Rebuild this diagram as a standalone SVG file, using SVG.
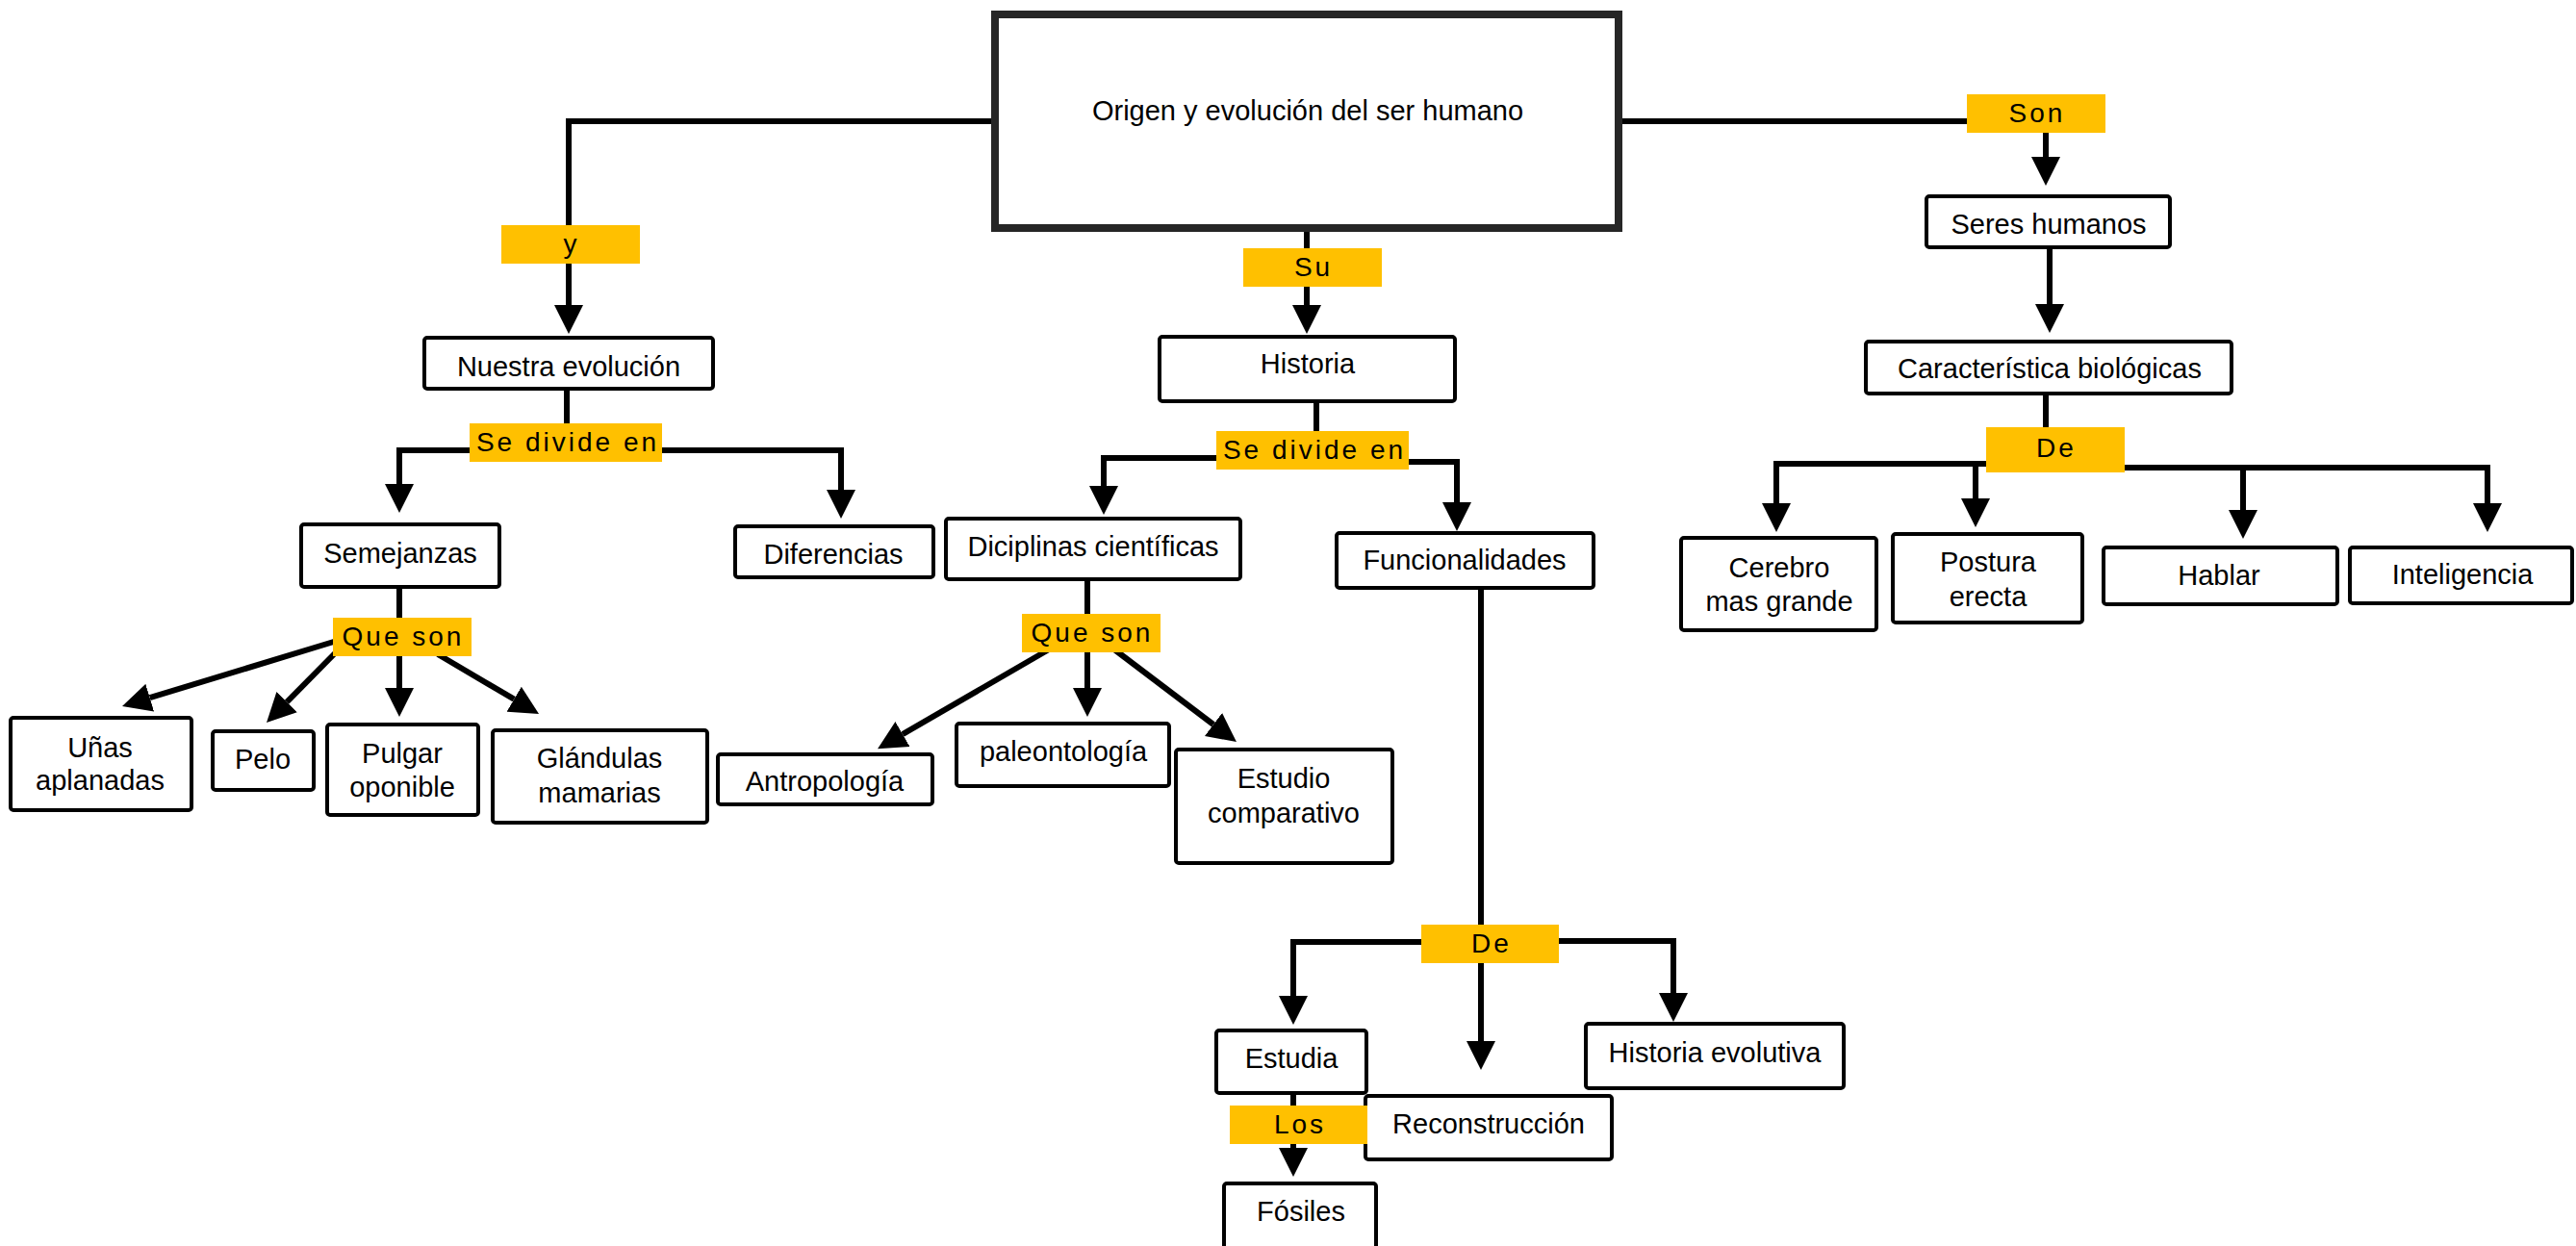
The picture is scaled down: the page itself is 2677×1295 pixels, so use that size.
<svg xmlns="http://www.w3.org/2000/svg" width="2677" height="1295" viewBox="0 0 2677 1295">
<defs>
<style>
.n rect{fill:#fff;stroke:#000;stroke-width:4}
.n text,.l text{font-family:"Liberation Sans",Arial,sans-serif;fill:#000;text-anchor:middle}
.n text{font-size:29px}
.l rect{fill:#FFC000}
.l text{font-size:28px;letter-spacing:3px}
.c path{fill:none;stroke:#000;stroke-width:6}
.c path.a{marker-end:url(#ah)}
</style>
<marker id="ah" markerUnits="userSpaceOnUse" markerWidth="31" markerHeight="31" refX="0" refY="15" orient="auto" viewBox="0 0 31 30">
<path d="M0,0 L30,15 L0,30 z" fill="#000"/>
</marker>
</defs>
<rect width="2677" height="1295" fill="#fff"/>
<g id="connectors" class="c">
<path class="a" d="M1030,126 H591 V317"/>
<path class="a" d="M1358,241 V317"/>
<path class="a" d="M1686,126 H2126 V163"/>
<path class="a" d="M2130,259 V316"/>
<path d="M2126,411 V450"/>
<path class="a" d="M2070,482 H1846 V523"/>
<path class="a" d="M2053,482 V518"/>
<path class="a" d="M2200,486 H2585 V523"/>
<path class="a" d="M2331,486 V530"/>
<path d="M589,406 V445"/>
<path class="a" d="M495,468 H415 V503"/>
<path class="a" d="M680,468 H874 V509"/>
<path d="M1368,419 V452"/>
<path class="a" d="M1270,476 H1147 V505"/>
<path class="a" d="M1458,480 H1514 V522"/>
<path d="M415,612 V650"/>
<path class="a" d="M350,666 L155.7,725.2"/>
<path class="a" d="M350,677 L298.1,729.6"/>
<path class="a" d="M415,676 V715"/>
<path class="a" d="M455,680 L534.2,726.7"/>
<path d="M1130,604 V645"/>
<path class="a" d="M1090,675 L938,763.1"/>
<path class="a" d="M1130,672 V715"/>
<path class="a" d="M1158,675 L1261,753"/>
<path d="M1539,613 V966"/>
<path class="a" d="M1485,979 H1344 V1035"/>
<path class="a" d="M1539,995 V1082"/>
<path class="a" d="M1612,978 H1739 V1032"/>
<path class="a" d="M1344,1138 V1193"/>
</g>
<g id="main" class="n">
<rect x="1034" y="15" width="648" height="222" style="stroke:#262626;stroke-width:8"/>
<text x="1359" y="125">Origen y evolución del ser humano</text>
</g>
<g id="nuestra" class="n"><rect x="441" y="351" width="300" height="53" rx="3"/><text x="591" y="391">Nuestra evolución</text></g>
<g id="historia" class="n"><rect x="1205" y="350" width="307" height="67" rx="3"/><text x="1359" y="388">Historia</text></g>
<g id="seres" class="n"><rect x="2002" y="204" width="253" height="53" rx="3"/><text x="2129" y="243">Seres humanos</text></g>
<g id="caracteristica" class="n"><rect x="1939" y="355" width="380" height="54" rx="3"/><text x="2130" y="393">Característica biológicas</text></g>
<g id="semejanzas" class="n"><rect x="313" y="545" width="206" height="65" rx="3"/><text x="416" y="585">Semejanzas</text></g>
<g id="diferencias" class="n"><rect x="764" y="547" width="206" height="53" rx="3"/><text x="866" y="586">Diferencias</text></g>
<g id="diciplinas" class="n"><rect x="983" y="539" width="306" height="63" rx="3"/><text x="1136" y="578">Diciplinas científicas</text></g>
<g id="funcionalidades" class="n"><rect x="1389" y="554" width="267" height="57" rx="3"/><text x="1522" y="592">Funcionalidades</text></g>
<g id="unas" class="n"><rect x="11" y="746" width="188" height="96" rx="3"/><text x="104" y="787">Uñas</text><text x="104" y="821">aplanadas</text></g>
<g id="pelo" class="n"><rect x="221" y="760" width="105" height="61" rx="3"/><text x="273" y="799">Pelo</text></g>
<g id="pulgar" class="n"><rect x="340" y="753" width="157" height="94" rx="3"/><text x="418" y="793">Pulgar</text><text x="418" y="828">oponible</text></g>
<g id="glandulas" class="n"><rect x="512" y="759" width="223" height="96" rx="3"/><text x="623" y="798">Glándulas</text><text x="623" y="834">mamarias</text></g>
<g id="antropologia" class="n"><rect x="746" y="784" width="223" height="52" rx="3"/><text x="857" y="822">Antropología</text></g>
<g id="paleontologia" class="n"><rect x="994" y="752" width="221" height="65" rx="3"/><text x="1105" y="791">paleontología</text></g>
<g id="estudio" class="n"><rect x="1222" y="779" width="225" height="118" rx="3"/><text x="1334" y="819">Estudio</text><text x="1334" y="855">comparativo</text></g>
<g id="cerebro" class="n"><rect x="1747" y="559" width="203" height="96" rx="3"/><text x="1849" y="600">Cerebro</text><text x="1849" y="635">mas grande</text></g>
<g id="postura" class="n"><rect x="1967" y="555" width="197" height="92" rx="3"/><text x="2066" y="594">Postura</text><text x="2066" y="630">erecta</text></g>
<g id="hablar" class="n"><rect x="2186" y="569" width="243" height="59" rx="3"/><text x="2306" y="608">Hablar</text></g>
<g id="inteligencia" class="n"><rect x="2442" y="569" width="231" height="58" rx="3"/><text x="2559" y="607">Inteligencia</text></g>
<g id="estudia" class="n"><rect x="1264" y="1071" width="156" height="65" rx="3"/><text x="1342" y="1110">Estudia</text></g>
<g id="historia-evolutiva" class="n"><rect x="1648" y="1064" width="268" height="67" rx="3"/><text x="1782" y="1104">Historia evolutiva</text></g>
<g id="reconstruccion" class="n"><rect x="1419" y="1139" width="256" height="66" rx="3"/><text x="1547" y="1178">Reconstrucción</text></g>
<g id="fosiles" class="n"><rect x="1272" y="1230" width="158" height="80" rx="3"/><text x="1352" y="1269">Fósiles</text></g>
<g id="label-y" class="l"><rect x="521" y="234" width="144" height="40"/><text x="594" y="263">y</text></g>
<g id="label-su" class="l"><rect x="1292" y="258" width="144" height="40"/><text x="1365" y="287">Su</text></g>
<g id="label-son" class="l"><rect x="2044" y="98" width="144" height="40"/><text x="2117" y="127">Son</text></g>
<g id="label-divide1" class="l"><rect x="488" y="440" width="200" height="40"/><text x="590" y="469">Se divide en</text></g>
<g id="label-divide2" class="l"><rect x="1264" y="448" width="200" height="40"/><text x="1366" y="477">Se divide en</text></g>
<g id="label-queson1" class="l"><rect x="346" y="642" width="144" height="40"/><text x="419" y="671">Que son</text></g>
<g id="label-queson2" class="l"><rect x="1062" y="638" width="144" height="40"/><text x="1135" y="667">Que son</text></g>
<g id="label-de1" class="l"><rect x="2064" y="444" width="144" height="47"/><text x="2137" y="475">De</text></g>
<g id="label-de2" class="l"><rect x="1477" y="961" width="143" height="40"/><text x="1550" y="990">De</text></g>
<g id="label-los" class="l"><rect x="1278" y="1149" width="143" height="40"/><text x="1351" y="1178">Los</text></g>
</svg>
